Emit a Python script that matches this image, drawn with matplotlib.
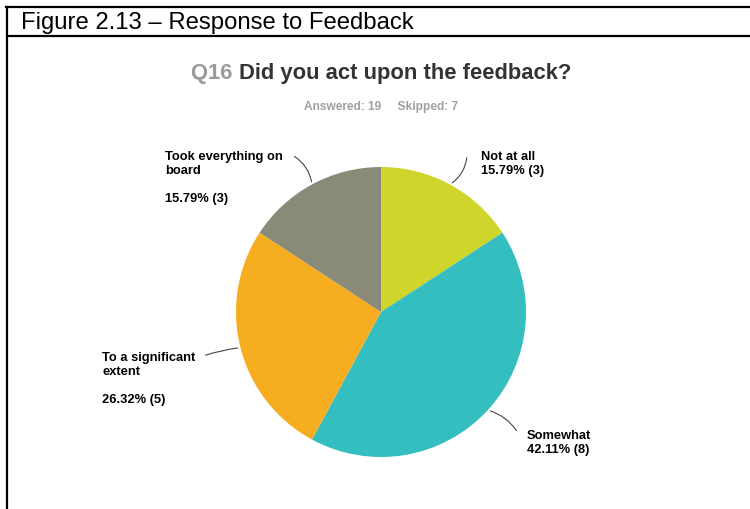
import matplotlib
matplotlib.use("Agg")
import matplotlib.pyplot as plt
import numpy as np
from matplotlib.lines import Line2D
from matplotlib.patches import FancyArrowPatch

W, H = 750, 509

labels = ["Not at all", "Somewhat", "To a significant\nextent", "Took everything on\nboard"]
pcts = [15.79, 42.11, 26.32, 15.79]
counts = [3, 8, 5, 3]
colors = ["#D0D52B", "#34BEBF", "#F6AD20", "#8A8A78"]
answered, skipped = 19, 7

# label anchor (top-left, pixels) and where the leader line ends
label_pos = [(481, 151), (527, 430), (102, 352), (165, 151)]
leader_end = [(467, 155), (518, 433), (203, 356), (292, 155)]
leader_rad = [-0.25, 0.2, -0.05, -0.25]
gap_line = [False, False, True, True]


def px(x, y):
    return x / W, 1 - y / H


plt.rcParams["font.family"] = ["Liberation Sans", "DejaVu Sans"]
fig = plt.figure(figsize=(7.5, 5.09), dpi=100)

# page frame around the figure caption
frame_kw = dict(transform=fig.transFigure, color="black", lw=1.6)
fig.add_artist(Line2D([px(6, 0)[0], 1], [px(0, 7)[1]] * 2, **frame_kw))
fig.add_artist(Line2D([px(7, 0)[0], 1], [px(0, 36)[1]] * 2, **frame_kw))
fig.add_artist(Line2D([px(7, 0)[0]] * 2, [px(0, 7)[1], 0], **frame_kw))
fig.text(*px(21, 23), "Figure 2.13 \u2013 Response to Feedback", fontsize=17.2,
         va="center", ha="left", color="black")

# question title: grey number + dark question, centred as a whole
cx = 381
t1 = fig.text(0, 0, "Q16 ", fontsize=15.8, fontweight="bold", color="#9A9A9A")
t2 = fig.text(0, 0, "Did you act upon the feedback?", fontsize=15.8,
              fontweight="bold", color="#333333")
r = fig.canvas.get_renderer()
w1 = t1.get_window_extent(r).width
w2 = t2.get_window_extent(r).width
x0 = cx - (w1 + w2) / 2
t1.set_position(px(x0, 73)); t1.set_va("center")
t2.set_position(px(x0 + w1, 73)); t2.set_va("center")

fig.text(*px(cx, 107), f"Answered: {answered}     Skipped: {skipped}", fontsize=8.6,
         fontweight="bold", color="#A0A0A0", ha="center", va="center")

# pie, centre (381, 312), radius 145 px
R = 145
ax = fig.add_axes([(cx - R) / W, (H - 312 - R) / H, 2 * R / W, 2 * R / H])
ax.pie(pcts, colors=colors, startangle=90, counterclock=False, radius=1,
       wedgeprops=dict(linewidth=0))
ax.set_xlim(-1, 1)
ax.set_ylim(-1, 1)
ax.set_aspect("auto")
ax.axis("off")

cum = np.cumsum([0] + pcts)
total = sum(pcts)
for i, lab in enumerate(labels):
    mid = (cum[i] + cum[i + 1]) / 2 / total
    ang = np.deg2rad(90 - 360 * mid)
    ex, ey = cx + R * np.cos(ang), 312 - R * np.sin(ang)
    fig.add_artist(FancyArrowPatch(
        px(*leader_end[i]), px(ex, ey), transform=fig.transFigure,
        arrowstyle="-", connectionstyle=f"arc3,rad={leader_rad[i]}",
        color="#444444", lw=0.8))
    sep = "\n\n" if gap_line[i] else "\n"
    txt = f"{lab}{sep}{pcts[i]:.2f}% ({counts[i]})"
    fig.text(*px(*label_pos[i]), txt, fontsize=9.3, fontweight="bold",
             ha="left", va="top", color="black", linespacing=1.22)

fig.savefig("out.png", dpi=100)
